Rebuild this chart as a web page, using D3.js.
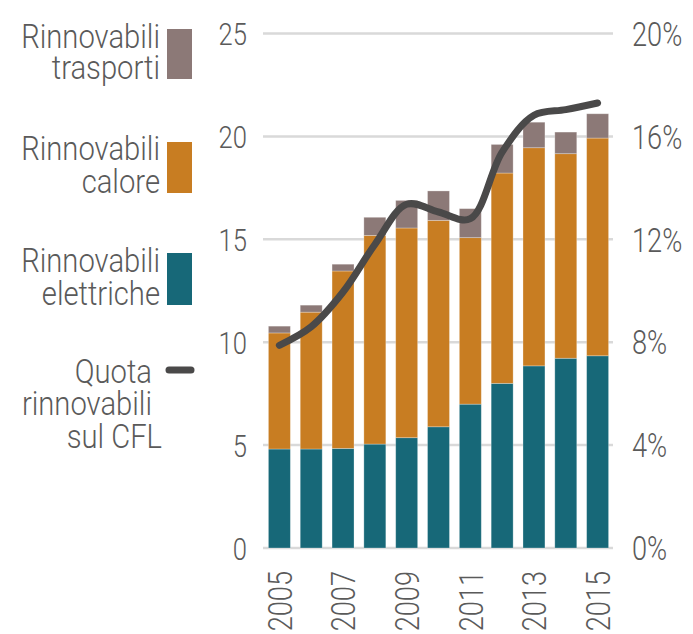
<!DOCTYPE html>
<html>
<head>
<meta charset="utf-8">
<script src="https://cdn.jsdelivr.net/npm/d3@7"></script>
<style>
  body { margin: 0; background: #fff; }
  text { font-family: "Roboto", "Liberation Sans", sans-serif; fill: #5a5a5a; }
</style>
</head>
<body>
<script>
// data
const years = ["2005","2006","2007","2008","2009","2010","2011","2012","2013","2014","2015"];
const elettriche = [4.81, 4.81, 4.84, 5.05, 5.36, 5.89, 6.99, 8.0, 8.85, 9.22, 9.34];
const calore = [5.64, 6.65, 8.62, 10.14, 10.19, 10.03, 8.09, 10.22, 10.60, 9.94, 10.58];
const trasporti = [0.33, 0.34, 0.33, 0.88, 1.34, 1.43, 1.41, 1.39, 1.24, 1.05, 1.18];
const quota = [7.88, 8.6, 9.95, 11.8, 13.36, 13.06, 12.8, 15.39, 16.82, 17.04, 17.3];
const leftTicks = [0, 5, 10, 15, 20, 25];
const rightTicks = [0, 4, 8, 12, 16, 20];
const yearLabels = ["2005","2007","2009","2011","2013","2015"];

const W = 693, H = 634;
const colors = {trasporti: "#8c7977", calore: "#c87d22", elettriche: "#176878", line: "#4a4949"};
const SX = 0.8; // condensed look
const SXL = 0.86; // legend texts are a bit wider

const svg = d3.select("body").append("svg")
    .attr("width", W)
    .attr("height", H);

const x = d3.scaleBand()
    .domain(years)
    .range([263, 614])
    .paddingInner(0.31)
    .paddingOuter(0.17);

const y = d3.scaleLinear().domain([0, 25]).range([548, 33.5]);
const yR = d3.scaleLinear().domain([0, 20]).range([548, 33.5]);

// gridlines
svg.append("g")
  .selectAll("line")
  .data(leftTicks)
  .join("line")
    .attr("x1", 263)
    .attr("x2", 613)
    .attr("y1", d => y(d))
    .attr("y2", d => y(d))
    .attr("stroke", "#d9d9d9")
    .attr("stroke-width", 2.5);

// left axis labels
svg.append("g")
  .selectAll("text")
  .data(leftTicks)
  .join("text")
    .attr("transform", d => `translate(247,${y(d)}) scale(${SX},1)`)
    .attr("text-anchor", "end")
    .attr("dy", "0.36em")
    .style("font-size", "32px")
    .style("font-weight", 300)
    .text(d => d);

// right axis labels
svg.append("g")
  .selectAll("text")
  .data(rightTicks)
  .join("text")
    .attr("transform", d => `translate(632,${yR(d)}) scale(${SX},1)`)
    .attr("dy", "0.36em")
    .style("font-size", "34px")
    .style("font-weight", 300)
    .text(d => d + "%");

// x labels
svg.append("g")
  .selectAll("text")
  .data(yearLabels)
  .join("text")
    .attr("transform", d => `translate(${x(d) + x.bandwidth() / 2},571) rotate(-90) scale(${SX},1)`)
    .attr("text-anchor", "end")
    .attr("dy", "0.36em")
    .style("font-size", "34px")
    .style("font-weight", 300)
    .text(d => d);

// stacked bars
const keys = ["elettriche", "calore", "trasporti"];
const table = years.map((yr, i) => ({year: yr, elettriche: elettriche[i], calore: calore[i], trasporti: trasporti[i]}));
const series = d3.stack().keys(keys)(table);

svg.append("g")
  .selectAll("g")
  .data(series)
  .join("g")
    .attr("fill", d => colors[d.key])
  .selectAll("rect")
  .data(d => d)
  .join("rect")
    .attr("x", d => x(d.data.year))
    .attr("y", d => y(d[1]))
    .attr("width", x.bandwidth())
    .attr("height", d => y(d[0]) - y(d[1]))
    .attr("stroke", "rgba(255,255,255,0.35)")
    .attr("stroke-width", 0.8);

// line
const line = d3.line()
    .x((d, i) => x(years[i]) + x.bandwidth() / 2)
    .y(d => yR(d))
    .curve(d3.curveCatmullRom.alpha(0.5));

svg.append("path")
    .datum(quota)
    .attr("d", line)
    .attr("fill", "none")
    .attr("stroke", colors.line)
    .attr("stroke-width", 7)
    .attr("stroke-linecap", "round")
    .attr("stroke-linejoin", "round");

// legend
const legend = svg.append("g");
const swatches = [
  {key: "trasporti", y0: 29, y1: 79, lines: [["Rinnovabili", 48], ["trasporti", 79]]},
  {key: "calore", y0: 142, y1: 193, lines: [["Rinnovabili", 160], ["calore", 193]]},
  {key: "elettriche", y0: 253, y1: 305, lines: [["Rinnovabili", 272], ["elettriche", 305]]}
];
swatches.forEach(s => {
  legend.append("rect")
      .attr("x", 167)
      .attr("y", s.y0)
      .attr("width", 25)
      .attr("height", s.y1 - s.y0)
      .attr("fill", colors[s.key]);
  s.lines.forEach(l => {
    legend.append("text")
        .attr("transform", `translate(160,${l[1]}) scale(${SXL},1)`)
        .attr("text-anchor", "end")
        .style("font-size", "34px")
        .style("font-weight", 300)
        .text(l[0]);
  });
});

legend.append("line")
    .attr("x1", 169)
    .attr("x2", 191)
    .attr("y1", 370)
    .attr("y2", 370)
    .attr("stroke", colors.line)
    .attr("stroke-width", 7)
    .attr("stroke-linecap", "round");

[["Quota", 383, 152], ["rinnovabili", 415, 152], ["sul CFL", 448, 162]].forEach(l => {
  legend.append("text")
      .attr("transform", `translate(${l[2]},${l[1]}) scale(${SXL},1)`)
      .attr("text-anchor", "end")
      .style("font-size", "34px")
      .style("font-weight", 300)
      .text(l[0]);
});
</script>
</body>
</html>
